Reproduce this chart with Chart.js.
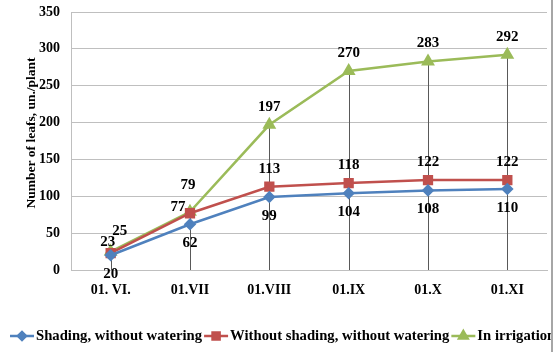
<!DOCTYPE html>
<html lang="en">
<head>
  <meta charset="UTF-8" />
  <title>Number of leafs</title>
  <style>
    body { margin: 0; background: #fff; }
    #chart { display: block; }
  </style>
</head>
<body>
  <canvas id="chart" width="555" height="352"></canvas>

  <script src="https://cdn.jsdelivr.net/npm/chart.js"></script>
  <script>
    const dates = ["01. VI.", "01.VII", "01.VIII", "01.IX", "01.X", "01.XI"];
    const shading = [20, 62, 99, 104, 108, 110];
    const noShading = [23, 77, 113, 118, 122, 122];
    const irrigation = [25, 79, 197, 270, 283, 292];
    const yTicks = [0, 50, 100, 150, 200, 250, 300, 350];
    const yTitle = "Number of leafs, un./plant";

    const serif = "'Liberation Serif', 'Times New Roman', serif";

    // where each value label sits relative to its point [dx, dy]
    const labelShift = [
      [[0, 19], [0, 19], [0, 19], [0, 19], [0, 19], [0, 19]],
      [[-3, -11], [-12, -6], [0, -18], [0, -18], [0, -18], [0, -18]],
      [[9, -20], [-2, -27], [0, -18], [0, -18], [0, -18], [0, -18]]
    ];

    // vertical lines from the top point down to the axis
    const dropLines = {
      id: "dropLines",
      beforeDatasetsDraw(chart) {
        const ctx = chart.ctx;
        const y = chart.scales.y;
        const x = chart.scales.x;
        ctx.save();
        ctx.strokeStyle = "#595959";
        ctx.lineWidth = 1;
        dates.forEach((d, i) => {
          const top = Math.max(...chart.data.datasets.map(ds => ds.data[i]));
          const px = Math.round(x.getPixelForValue(i)) + 0.5;
          ctx.beginPath();
          ctx.moveTo(px, y.getPixelForValue(top));
          ctx.lineTo(px, y.getPixelForValue(0));
          ctx.stroke();
        });
        ctx.restore();
      }
    };

    const valueLabels = {
      id: "valueLabels",
      afterDatasetsDraw(chart) {
        const ctx = chart.ctx;
        ctx.save();
        ctx.font = "bold 15px " + serif;
        ctx.fillStyle = "#000";
        ctx.textAlign = "center";
        ctx.textBaseline = "middle";
        chart.data.datasets.forEach((ds, di) => {
          chart.getDatasetMeta(di).data.forEach((pt, i) => {
            const s = labelShift[di][i];
            ctx.fillText(ds.data[i], pt.x + s[0], pt.y + s[1]);
          });
        });
        ctx.restore();
      }
    };

    const extras = {
      id: "extras",
      afterDraw(chart) {
        const ctx = chart.ctx;
        // y axis title
        ctx.save();
        ctx.translate(32, 133);
        ctx.rotate(-Math.PI / 2);
        ctx.font = "bold 13.5px " + serif;
        ctx.fillStyle = "#000";
        ctx.textAlign = "center";
        ctx.textBaseline = "middle";
        ctx.fillText(yTitle, 0, 0);
        ctx.restore();

        // legend along the bottom, cut off by the frame on the right
        const y = 336;
        let x = 10;
        ctx.save();
        ctx.beginPath();
        ctx.rect(0, 0, 551, 352);
        ctx.clip();
        ctx.font = "bold 14.7px " + serif;
        ctx.textBaseline = "middle";
        ctx.textAlign = "left";
        chart.data.datasets.forEach(ds => {
          ctx.strokeStyle = ds.borderColor;
          ctx.lineWidth = 2.5;
          ctx.beginPath();
          ctx.moveTo(x, y);
          ctx.lineTo(x + 24, y);
          ctx.stroke();
          Chart.helpers.drawPoint(ctx, {
            pointStyle: ds.pointStyle,
            radius: ds.pointRadius - 0.5,
            borderWidth: 1
          }, x + 12, y);
          ctx.fillStyle = ds.borderColor;
          ctx.fill();
          ctx.fillStyle = "#000";
          ctx.fillText(ds.label, x + 26, y);
          x += 26 + ctx.measureText(ds.label).width + 2;
        });
        ctx.restore();
        ctx.fillStyle = "#A6A6A6";
        ctx.fillRect(551, 0, 2, 352);
      }
    };

    function series(label, data, color, style, r) {
      return {
        label: label,
        data: data,
        borderColor: color,
        backgroundColor: color,
        pointBackgroundColor: color,
        pointBorderColor: color,
        pointStyle: style,
        pointRadius: r,
        borderWidth: 2.5,
        tension: 0
      };
    }

    new Chart(document.getElementById("chart"), {
      type: "line",
      data: {
        labels: dates,
        datasets: [
          series("Shading, without watering", shading, "#4F81BD", "rectRot", 4.5),
          series("Without shading, without watering", noShading, "#C0504D", "rect", 5.5),
          series("In irrigation", irrigation, "#9BBB59", "triangle", 5.5)
        ]
      },
      options: {
        responsive: false,
        animation: false,
        layout: { padding: { top: 12, right: 7, left: 0, bottom: 0 } },
        plugins: {
          legend: { display: false },
          tooltip: { enabled: false }
        },
        scales: {
          x: {
            offset: true,
            grid: { display: false },
            border: { color: "#BFBFBF" },
            ticks: {
              color: "#000",
              padding: 4,
              font: { family: serif, size: 14, weight: "bold" }
            },
            afterFit(scale) { scale.height = 82; }
          },
          y: {
            min: 0,
            max: 350,
            afterBuildTicks(scale) { scale.ticks = yTicks.map(v => ({ value: v })); },
            grid: { color: "#BFBFBF", drawTicks: false },
            border: { color: "#BFBFBF" },
            ticks: {
              color: "#000",
              padding: 11,
              font: { family: serif, size: 14, weight: "bold" }
            },
            afterFit(scale) {
              scale.width = 71;
              scale.paddingTop = 0;
              scale.paddingBottom = 0;
            }
          }
        }
      },
      plugins: [dropLines, valueLabels, extras]
    });
  </script>
</body>
</html>
